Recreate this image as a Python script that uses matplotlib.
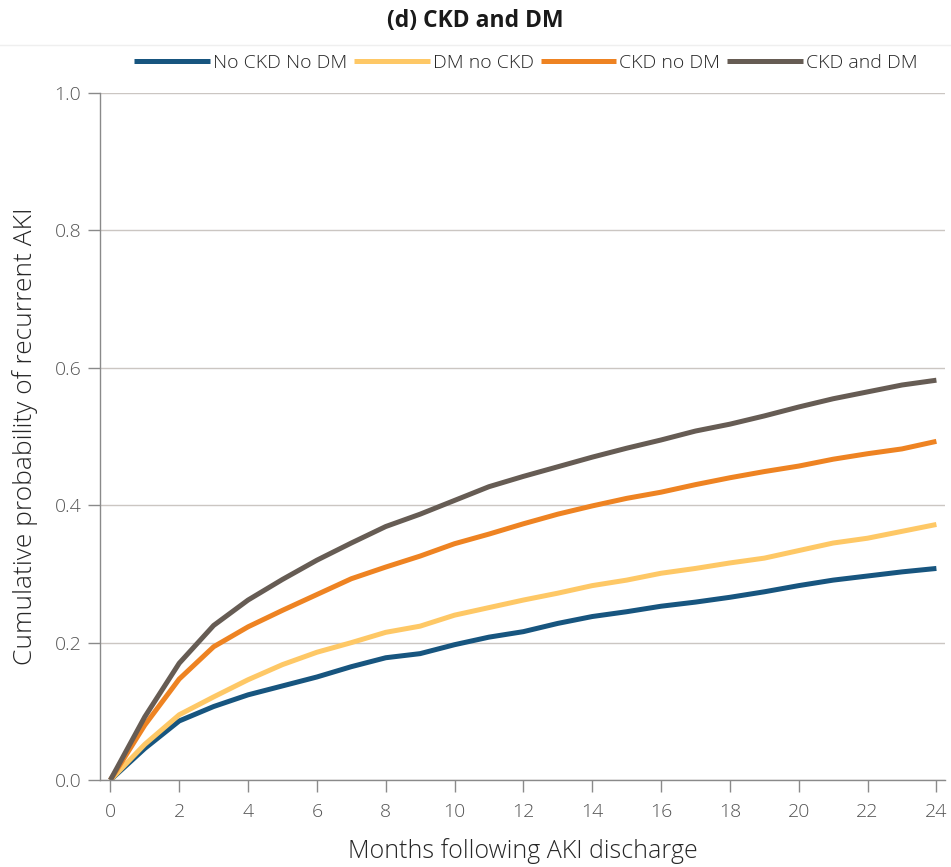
import numpy as np
import matplotlib.pyplot as plt
from matplotlib.lines import Line2D

# ----------------------------
# Data
# ----------------------------
months = list(range(0, 25))

no_ckd_no_dm = [0.0, 0.046, 0.086, 0.107, 0.124, 0.137, 0.150, 0.165, 0.178, 0.184,
                0.197, 0.208, 0.216, 0.228, 0.238, 0.245, 0.253, 0.259, 0.266, 0.274,
                0.283, 0.291, 0.297, 0.303, 0.308]
dm_no_ckd = [0.0, 0.052, 0.095, 0.121, 0.146, 0.168, 0.186, 0.200, 0.215, 0.224,
             0.240, 0.251, 0.262, 0.272, 0.283, 0.291, 0.301, 0.308, 0.316, 0.323,
             0.334, 0.345, 0.352, 0.362, 0.372]
ckd_no_dm = [0.0, 0.080, 0.147, 0.194, 0.223, 0.247, 0.270, 0.293, 0.310, 0.326,
             0.344, 0.358, 0.373, 0.387, 0.399, 0.410, 0.419, 0.430, 0.440, 0.449,
             0.457, 0.467, 0.475, 0.482, 0.493]
ckd_and_dm = [0.0, 0.092, 0.170, 0.225, 0.262, 0.292, 0.320, 0.345, 0.369, 0.387,
              0.407, 0.427, 0.442, 0.456, 0.470, 0.483, 0.495, 0.508, 0.518, 0.530,
              0.543, 0.555, 0.565, 0.575, 0.582]

series = ["No CKD No DM", "DM no CKD", "CKD no DM", "CKD and DM"]
colors = ["#17557f", "#fec866", "#ee8322", "#665c54"]

xticks = list(range(0, 25, 2))
yticks = [0.0, 0.2, 0.4, 0.6, 0.8, 1.0]

# ----------------------------
# Plot
# ----------------------------
plt.rcParams['font.family'] = ['Open Sans', 'DejaVu Sans']

fig = plt.figure(figsize=(9.51, 8.67), dpi=100)
ax = fig.add_axes([0.1052, 0.1003, 0.8885, 0.7924])

for name, vals, c in zip(series, [no_ckd_no_dm, dm_no_ckd, ckd_no_dm, ckd_and_dm], colors):
    ax.plot(months, vals, color=c, lw=3.6, label=name, solid_capstyle="butt")

ax.set_xlim(-0.3, 24.25)
ax.set_ylim(0, 1.0)
ax.set_xticks(xticks)
ax.set_yticks(yticks)
ax.set_yticklabels([f"{v:.1f}" for v in yticks])
ax.grid(axis="y", color="#cbc6c2", lw=1.0)
ax.set_axisbelow(True)

for s in ["top", "right"]:
    ax.spines[s].set_visible(False)
for s in ["left", "bottom"]:
    ax.spines[s].set_color("#8a8a8a")
    ax.spines[s].set_linewidth(1.0)

ax.tick_params(axis="both", colors="#8a8a8a", labelcolor="#555555",
               labelsize=14, length=8.5, width=1.0)
for lab in ax.get_xticklabels() + ax.get_yticklabels():
    lab.set_fontweight("light")
ax.tick_params(axis="x", pad=8)
ax.tick_params(axis="y", pad=5)

ax.set_xlabel("Months following AKI discharge", fontsize=18, color="#262626",
              fontweight="light", labelpad=12)
ax.set_ylabel("Cumulative probability of recurrent AKI", fontsize=19, color="#262626",
              fontweight="light", labelpad=12)

fig.text(0.5, 0.976, "(d) CKD and DM", ha="center", va="center",
         fontsize=16.5, fontweight="bold", color="#1a1a1a")
fig.add_artist(Line2D([0, 1], [0.948, 0.948], transform=fig.transFigure,
                      color="#efefef", lw=1))

leg = fig.legend(loc="center", bbox_to_anchor=(0.553, 0.927), ncol=4, frameon=False,
                 fontsize=14, handlelength=3.9, handletextpad=0.15, columnspacing=0.35,
                 borderaxespad=0)
for t in leg.get_texts():
    t.set_fontweight("light")
    t.set_color("#262626")

fig.savefig("out.png", dpi=100)
